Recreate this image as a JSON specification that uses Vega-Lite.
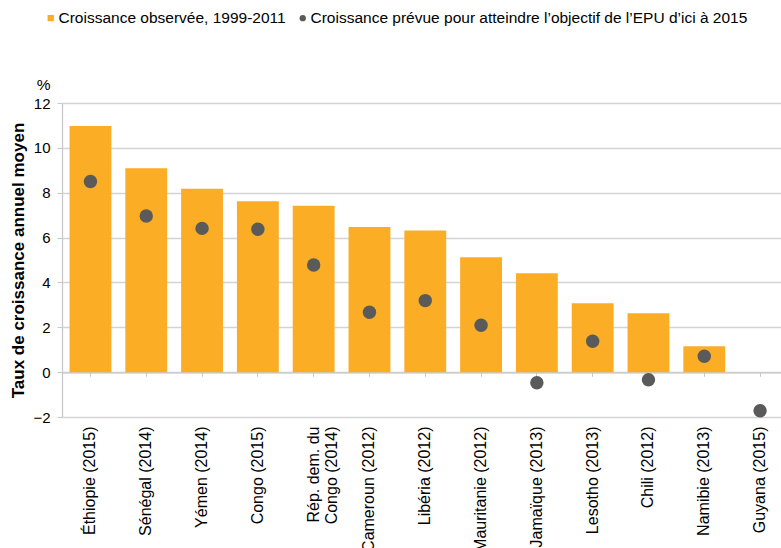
{
  "$schema": "https://vega.github.io/schema/vega-lite/v6.json",
  "autosize": "none",
  "width": 719,
  "height": 314,
  "padding": {"left": 62, "top": 103, "right": 0, "bottom": 131},
  "config": {
    "font": "Liberation Sans",
    "view": {"stroke": null},
    "axis": {"labelColor": "#000000", "titleColor": "#000000"}
  },
  "data": {
    "values": [
      {"pays": "Éthiopie (2015)", "obs": 10.97, "prev": 8.5},
      {"pays": "Sénégal (2014)", "obs": 9.09, "prev": 6.96},
      {"pays": "Yémen (2014)", "obs": 8.18, "prev": 6.41},
      {"pays": "Congo (2015)", "obs": 7.62, "prev": 6.37},
      {"pays": "Rép. dem. du Congo (2014)", "obs": 7.42, "prev": 4.78},
      {"pays": "Cameroun (2012)", "obs": 6.47, "prev": 2.67},
      {"pays": "Libéria (2012)", "obs": 6.32, "prev": 3.19},
      {"pays": "Mauritanie (2012)", "obs": 5.12, "prev": 2.09},
      {"pays": "Jamaïque (2013)", "obs": 4.41, "prev": -0.47},
      {"pays": "Lesotho (2013)", "obs": 3.07, "prev": 1.38},
      {"pays": "Chili (2012)", "obs": 2.63, "prev": -0.34},
      {"pays": "Namibie (2013)", "obs": 1.16, "prev": 0.71},
      {"pays": "Guyana (2015)", "obs": null, "prev": -1.72}
    ]
  },
  "layer": [
    {
      "mark": {"type": "bar", "color": "#FBAD26"},
      "encoding": {
        "x": {
          "field": "pays", "type": "nominal", "sort": null,
          "scale": {"paddingInner": 0.25, "paddingOuter": 0.0675, "align": 1},
          "axis": {
            "title": null, "orient": "bottom", "domain": false, "ticks": false,
            "labelAngle": -90, "labelPadding": 9, "labelFontSize": 16,
            "labelLimit": 200,
            "labelExpr": "datum.value == 'Rép. dem. du Congo (2014)' ? ['Rép. dem. du', 'Congo (2014)'] : datum.label"
          }
        },
        "y": {
          "field": "obs", "type": "quantitative",
          "scale": {"domain": [-2, 12], "nice": false, "zero": false},
          "axis": {
            "title": "Taux de croissance annuel moyen", "orient": "left",
            "titleFontSize": 17, "titleFontWeight": "bold", "titlePadding": 5,
            "values": [-2, 0, 2, 4, 6, 8, 10, 12],
            "labelFontSize": 15, "labelPadding": 7, "tickSize": 5,
            "grid": true, "gridColor": "#d4d4d4", "gridWidth": 1.3,
            "domainColor": "#c8c8c8", "tickColor": "#c8c8c8", "domainWidth": 1.3
          }
        },
        "color": {
          "datum": "Croissance observée, 1999-2011",
          "scale": {
            "domain": ["Croissance observée, 1999-2011", "Croissance prévue pour atteindre l’objectif de l’EPU d’ici à 2015"],
            "range": ["#FBAD26", "#5A5A5A"]
          },
          "legend": {
            "title": null, "orient": "none", "legendX": -19, "legendY": -93,
            "direction": "horizontal", "padding": 0,
            "labelFontSize": 15.5, "labelColor": "#000000", "labelLimit": 600,
            "labelOffset": 0, "columnPadding": 9, "symbolSize": 40,
            "symbolStrokeWidth": 0,
            "encode": {
              "symbols": {"update": {"shape": {"signal": "datum.value == 'Croissance observée, 1999-2011' ? 'square' : 'circle'"}}}
            }
          }
        }
      }
    },
    {
      "mark": {"type": "point", "filled": true, "size": 180, "opacity": 1},
      "encoding": {
        "x": {
          "field": "pays", "type": "nominal", "sort": null,
          "axis": {
            "title": null, "orient": "bottom", "offset": -44.7, "labels": false,
            "domain": true, "domainColor": "#c8c8c8", "domainWidth": 1.3,
            "ticks": true, "tickSize": 4, "tickColor": "#c8c8c8", "grid": false
          }
        },
        "y": {
          "field": "prev", "type": "quantitative",
          "axis": {
            "title": "%", "orient": "left", "labels": false, "ticks": false,
            "domain": false, "grid": false,
            "titleAngle": 0, "titleX": -12, "titleY": -14,
            "titleAlign": "right", "titleBaseline": "alphabetic",
            "titleFontSize": 15.5, "titleFontWeight": "normal"
          }
        },
        "color": {"datum": "Croissance prévue pour atteindre l’objectif de l’EPU d’ici à 2015"}
      }
    }
  ],
  "resolve": {"axis": {"x": "independent", "y": "independent"}}
}
